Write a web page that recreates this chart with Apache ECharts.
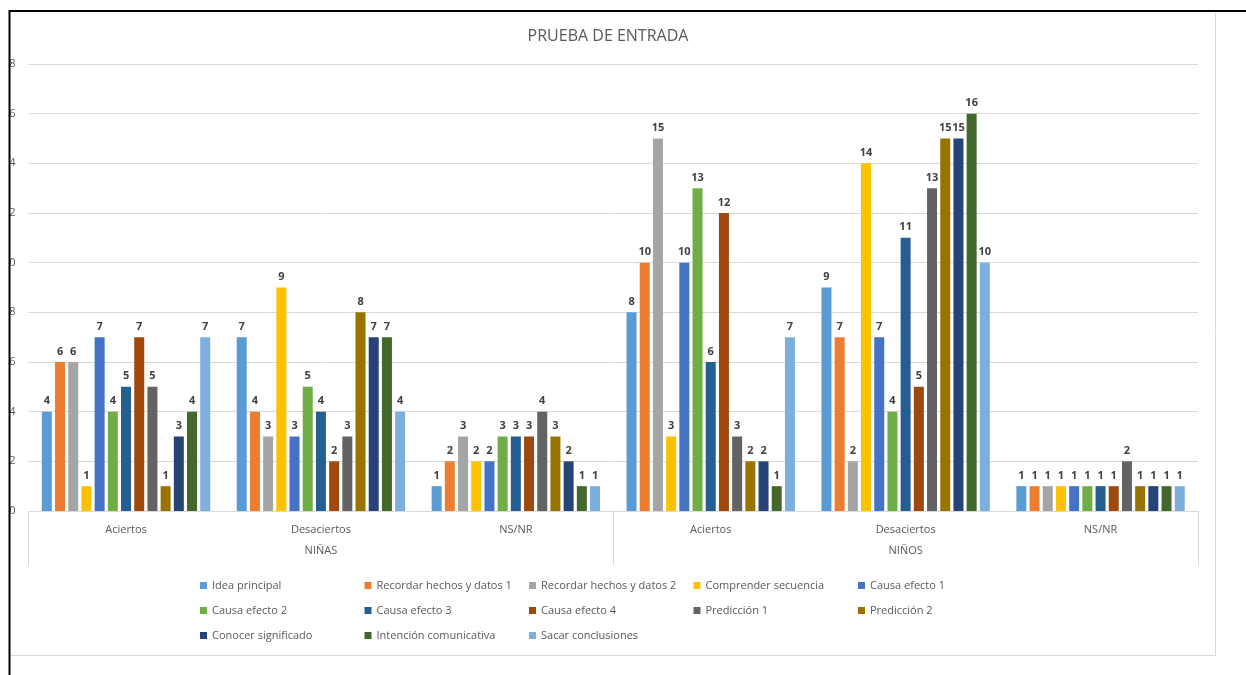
<!DOCTYPE html>
<html>
<head>
<meta charset="utf-8">
<title>PRUEBA DE ENTRADA</title>
<script src="https://cdn.jsdelivr.net/npm/echarts@6/dist/echarts.min.js"></script>
<style>
    html, body { margin: 0; padding: 0; background: #fff; }
    #grafico { width: 1246px; height: 675px; }
</style>
</head>
<body>
<div id="grafico"></div>
<script>
// categorias
var categorias = ['Aciertos', 'Desaciertos', 'NS/NR', 'Aciertos', 'Desaciertos', 'NS/NR'];
var grupos = ['NIÑAS', 'NIÑOS'];
var ticksY = [0, 2, 4, 6, 8, 10, 12, 14, 16, 18];

// series (orden: niñas aciertos, desaciertos, ns/nr, niños aciertos, desaciertos, ns/nr)
var nombres = ['Idea principal', 'Recordar hechos y datos 1', 'Recordar hechos y datos 2', 'Comprender secuencia',
    'Causa efecto 1', 'Causa efecto 2', 'Causa efecto 3', 'Causa efecto 4', 'Predicción 1', 'Predicción 2',
    'Conocer significado', 'Intención comunicativa', 'Sacar conclusiones'];
var ideaPrincipal = [4, 7, 1, 8, 9, 1];
var recordar1 = [6, 4, 2, 10, 7, 1];
var recordar2 = [6, 3, 3, 15, 2, 1];
var comprender = [1, 9, 2, 3, 14, 1];
var causa1 = [7, 3, 2, 10, 7, 1];
var causa2 = [4, 5, 3, 13, 4, 1];
var causa3 = [5, 4, 3, 6, 11, 1];
var causa4 = [7, 2, 3, 12, 5, 1];
var prediccion1 = [5, 3, 4, 3, 13, 2];
var prediccion2 = [1, 8, 3, 2, 15, 1];
var conocer = [3, 7, 2, 2, 15, 1];
var intencion = [4, 7, 1, 1, 16, 1];
var conclusiones = [7, 4, 1, 7, 10, 1];

var valores = [ideaPrincipal, recordar1, recordar2, comprender, causa1, causa2, causa3, causa4,
    prediccion1, prediccion2, conocer, intencion, conclusiones];
var colores = ['#5B9BD5', '#ED7D31', '#A5A5A5', '#FFC000', '#4472C4', '#70AD47', '#255E91',
    '#9E480E', '#636363', '#997300', '#264478', '#43682B', '#7CAFDD'];

var fuente = '"Open Sans", "Noto Sans", sans-serif';
var gris = '#595959';

var series = [];
for (var i = 0; i < nombres.length; i++) {
    series.push({
        name: nombres[i],
        type: 'bar',
        data: valores[i],
        barWidth: 10,
        barGap: '32%',
        itemStyle: { color: colores[i] },
        label: {
            show: true,
            position: 'top',
            distance: 5,
            fontFamily: fuente,
            fontSize: 11,
            fontWeight: 'bold',
            color: '#404040'
        }
    });
}

// leyenda: 5 columnas fijas, 3 filas
var leyendas = [];
for (var j = 0; j < nombres.length; j++) {
    leyendas.push({
        data: [nombres[j]],
        left: 195 + (j % 5) * 164.5,
        top: 575 + Math.floor(j / 5) * 25,
        itemWidth: 7,
        itemHeight: 7,
        icon: 'rect',
        selectedMode: false,
        textStyle: { fontFamily: fuente, fontSize: 11, color: gris }
    });
}

var chart = echarts.init(document.getElementById('grafico'));
var option = {
    backgroundColor: '#fff',
    animation: false,
    title: {
        text: 'PRUEBA DE ENTRADA',
        left: 603,
        textAlign: 'center',
        top: 23,
        textStyle: { fontFamily: fuente, fontSize: 16, fontWeight: 'normal', color: gris }
    },
    legend: leyendas,
    grid: { left: 27, right: 48, top: 64, bottom: 164, containLabel: false },
    xAxis: [
        {
            type: 'category',
            data: categorias,
            position: 'bottom',
            axisLine: { show: true, lineStyle: { color: '#d9d9d9' } },
            axisTick: { show: false },
            axisLabel: { margin: 13, fontFamily: fuente, fontSize: 11, color: gris }
        },
        {
            type: 'category',
            data: grupos,
            position: 'bottom',
            axisLine: { show: false },
            axisTick: { show: true, length: 54, lineStyle: { color: '#d9d9d9' } },
            axisLabel: { margin: 34, fontFamily: fuente, fontSize: 11, color: gris }
        }
    ],
    yAxis: {
        type: 'value',
        min: ticksY[0],
        max: ticksY[ticksY.length - 1],
        interval: 2,
        axisLine: { show: false },
        axisTick: { show: false },
        axisLabel: { margin: 13, fontFamily: fuente, fontSize: 11, color: gris },
        splitLine: { lineStyle: { color: '#d9d9d9' } }
    },
    series: series,
    graphic: [
        // borde recortado de la captura
        { type: 'rect', z: 100, shape: { x: 0, y: 0, width: 9, height: 675 }, style: { fill: '#fff' } },
        { type: 'rect', z: 100, shape: { x: 0, y: 0, width: 1246, height: 10 }, style: { fill: '#fff' } },
        { type: 'line', z: 101, shape: { x1: 9.5, y1: 10, x2: 9.5, y2: 675 }, style: { stroke: '#000', lineWidth: 2 } },
        { type: 'line', z: 101, shape: { x1: 9, y1: 11, x2: 1246, y2: 11 }, style: { stroke: '#000', lineWidth: 2 } },
        { type: 'polyline', z: 99, shape: { points: [[1215.5, 12], [1215.5, 655.5], [10, 655.5]] },
            style: { stroke: '#d9d9d9', lineWidth: 1, fill: null } }
    ]
};

option && chart.setOption(option);
</script>
</body>
</html>
